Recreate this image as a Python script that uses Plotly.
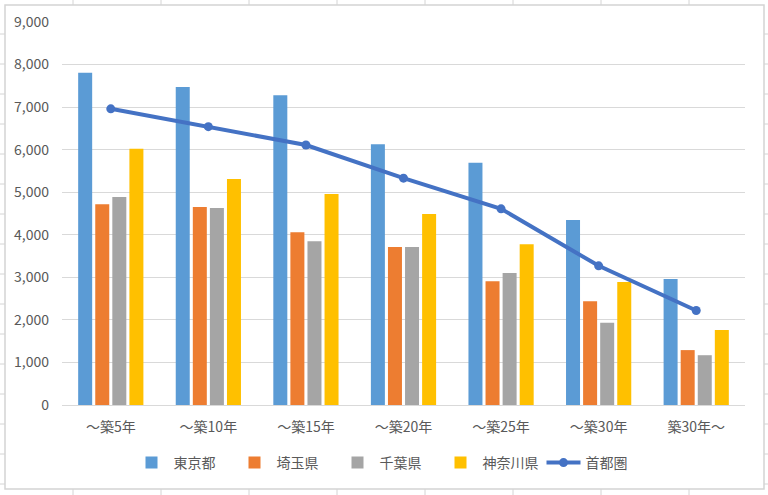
import plotly.graph_objects as go

categories = ["～築5年", "～築10年", "～築15年", "～築20年", "～築25年", "～築30年", "築30年～"]
tokyo = [7810, 7470, 7280, 6130, 5690, 4350, 2960]
saitama = [4720, 4650, 4060, 3710, 2910, 2440, 1290]
chiba = [4890, 4630, 3850, 3710, 3100, 1930, 1170]
kanagawa = [6020, 5310, 4960, 4490, 3780, 2890, 1760]
shutoken = [6960, 6540, 6110, 5330, 4610, 3270, 2220]

series_names = ["東京都", "埼玉県", "千葉県", "神奈川県"]
series_colors = ["#5B9BD5", "#ED7D31", "#A5A5A5", "#FFC000"]
line_name = "首都圏"
line_color = "#4472C4"

FONT = "Noto Sans CJK JP"
TXT = "#595959"
GRID = "#D9D9D9"

fig = go.Figure()
for name, vals, col in zip(series_names, [tokyo, saitama, chiba, kanagawa], series_colors):
    fig.add_trace(go.Bar(x=categories, y=vals, name=name, marker_color=col, marker_line_width=0))
fig.add_trace(go.Scatter(x=categories, y=shutoken, name=line_name, mode="lines+markers",
                         line=dict(color=line_color, width=4),
                         marker=dict(color=line_color, size=9)))

W, H = 768, 495
L, R, T, B = 62, 23, 22, 90
pw, ph = W - L - R, H - T - B

def px(x):
    return (x - L) / pw

def py(y):
    return (H - B - y) / ph

shapes = []
# chart border
shapes.append(dict(type="rect", xref="paper", yref="paper", x0=px(5), x1=px(764), y0=py(489), y1=py(5),
                   line=dict(color="#D4D4D4", width=1.5), fillcolor="rgba(0,0,0,0)", layer="below"))
# spreadsheet cell lines outside chart
xc = 73
while xc < W:
    shapes.append(dict(type="line", xref="paper", yref="paper", x0=px(xc), x1=px(xc), y0=py(0), y1=py(5),
                       line=dict(color="#D4D4D4", width=1)))
    shapes.append(dict(type="line", xref="paper", yref="paper", x0=px(xc), x1=px(xc), y0=py(489), y1=py(495),
                       line=dict(color="#D4D4D4", width=1)))
    xc += 88
yc = 34
while yc < 489:
    shapes.append(dict(type="line", xref="paper", yref="paper", x0=px(0), x1=px(5), y0=py(yc), y1=py(yc),
                       line=dict(color="#D4D4D4", width=1)))
    shapes.append(dict(type="line", xref="paper", yref="paper", x0=px(764), x1=px(768), y0=py(yc), y1=py(yc),
                       line=dict(color="#D4D4D4", width=1)))
    yc += 30

fig.update_layout(
    width=W, height=H,
    margin=dict(l=L, r=R, t=T, b=B),
    paper_bgcolor="white", plot_bgcolor="white",
    font=dict(family=FONT, size=14, color=TXT),
    barmode="group", bargap=0.30, bargroupgap=0.18,
    shapes=shapes,
    showlegend=True,
    legend=dict(orientation="h", x=px(387), xanchor="center", y=py(463), yanchor="middle",
                font=dict(family=FONT, size=14, color=TXT), itemwidth=34, tracegroupgap=0,
                entrywidth=54, entrywidthmode="pixels"),
)
fig.update_xaxes(showline=True, linecolor=GRID, linewidth=1, ticks="", showgrid=False,
                 tickfont=dict(family=FONT, size=14, color=TXT), ticklabelstandoff=9)
fig.update_yaxes(range=[0, 9000], dtick=1000, tickformat=",", showgrid=True, gridcolor=GRID, gridwidth=1,
                 zeroline=False, showline=False, ticks="",
                 tickfont=dict(family=FONT, size=14, color=TXT), ticklabelstandoff=12)

fig.write_html("out.html")
